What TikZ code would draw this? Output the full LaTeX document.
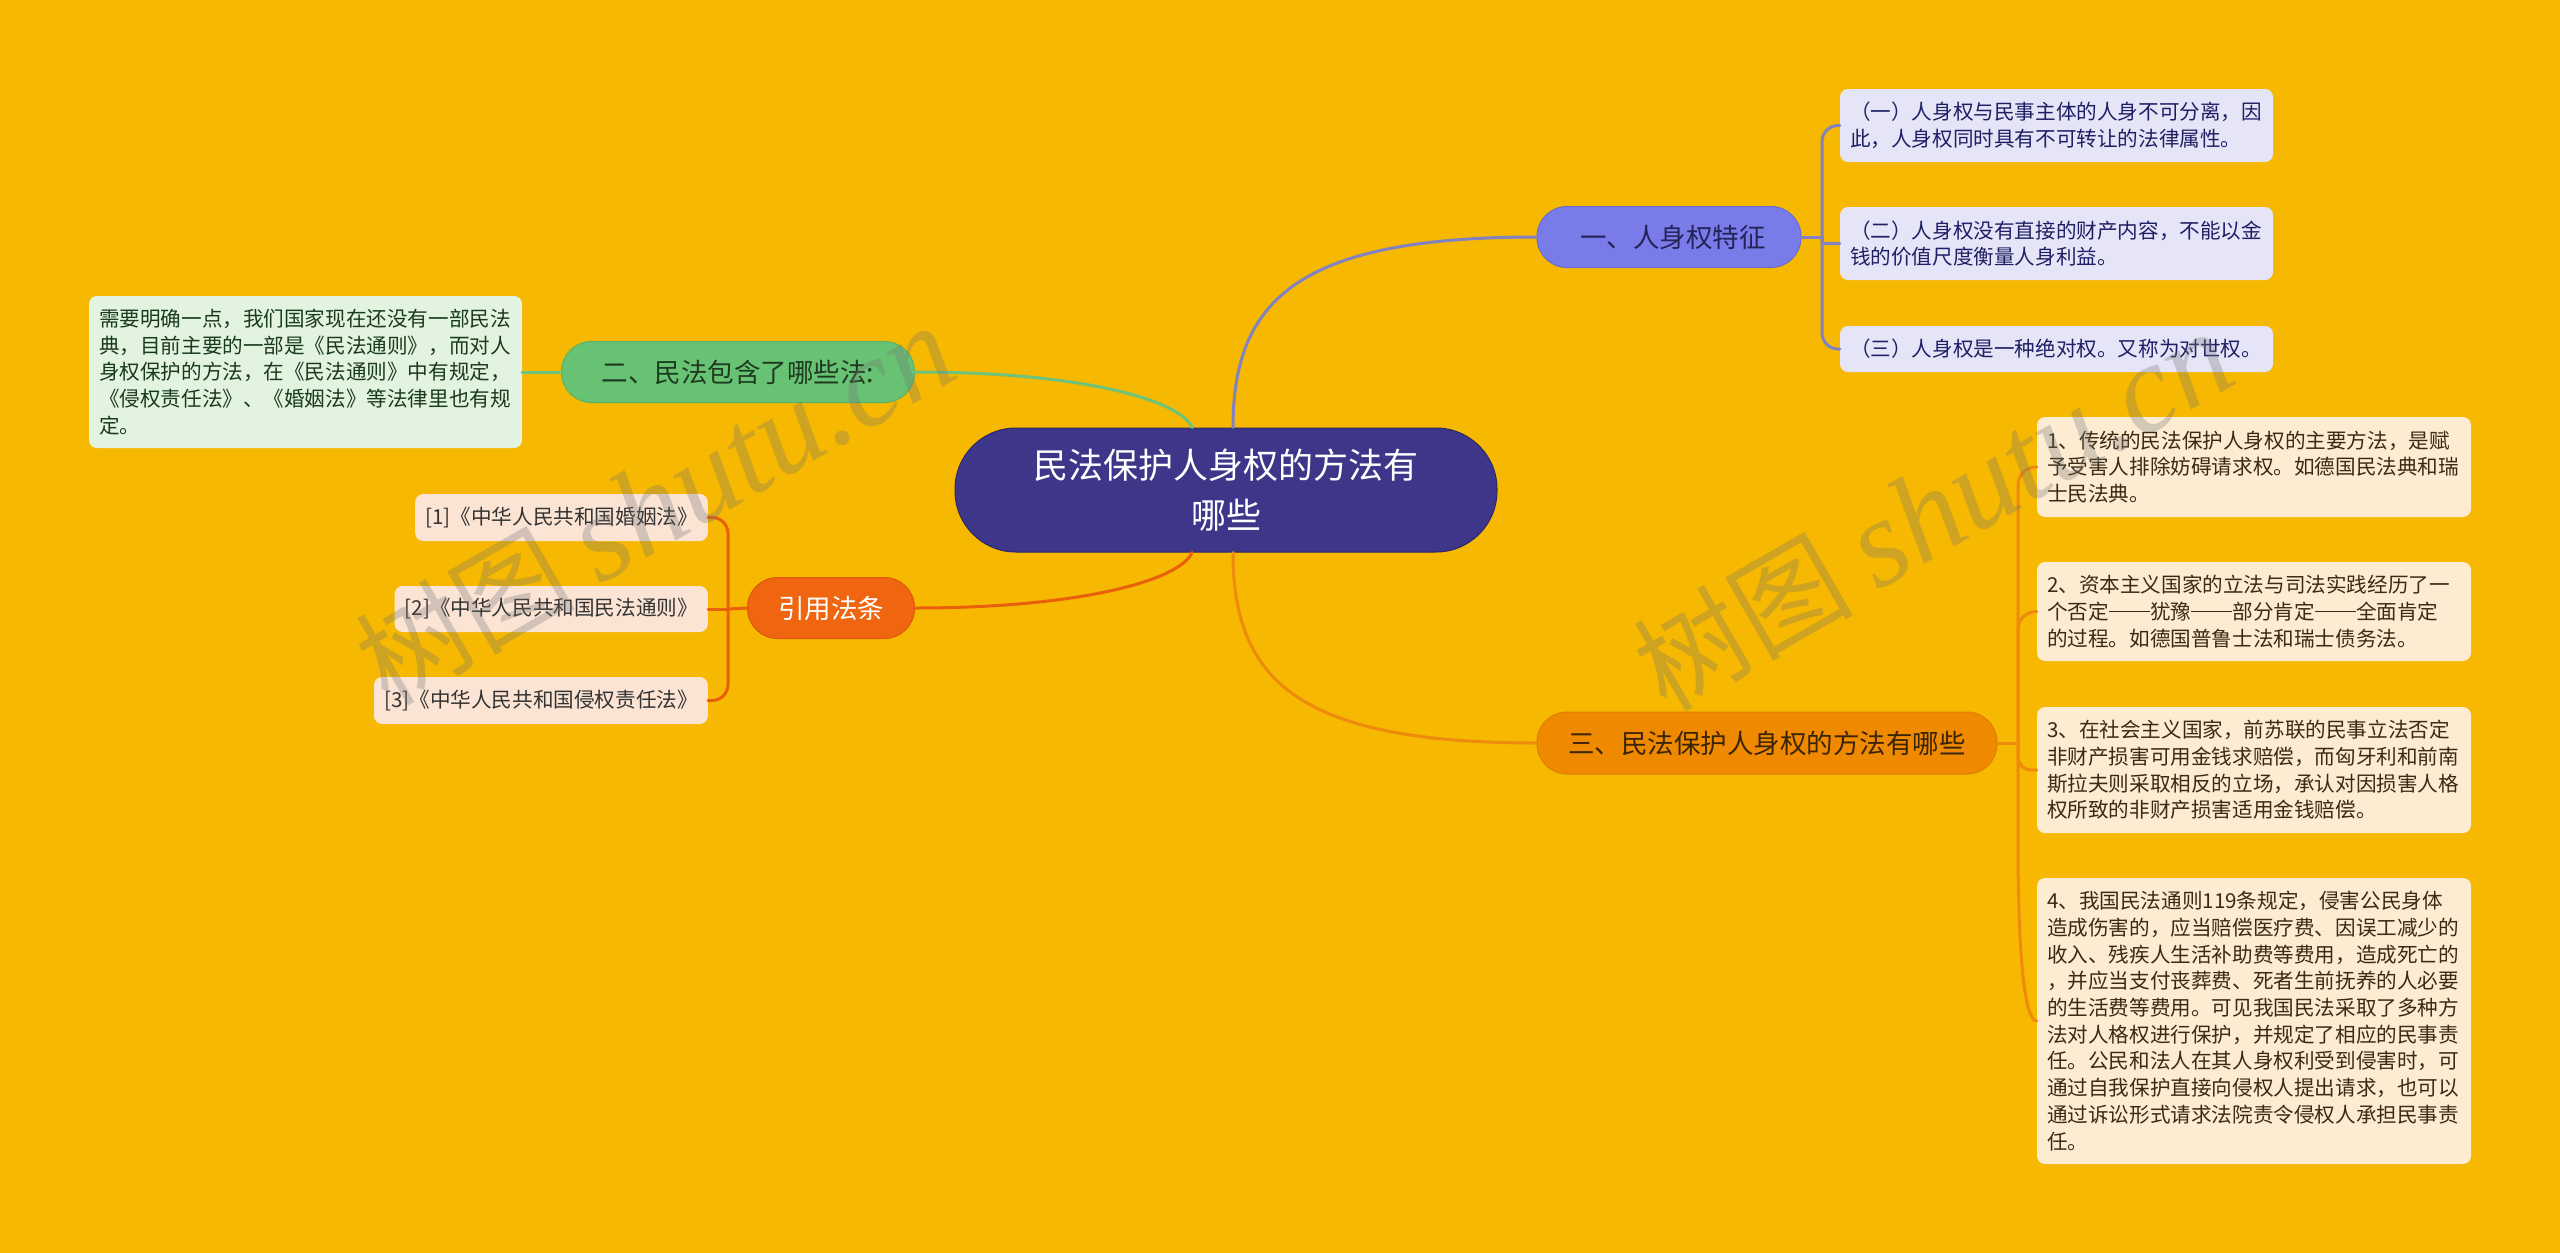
\documentclass[tikz,border=0pt]{standalone}
\usepackage{fontspec}
\setmainfont{Noto Sans CJK SC}
\newfontfamily\wmlatin{Liberation Serif}
\newcommand\cjkdash{\rule[0.34em]{2em}{0.065em}}
\definecolor{bg}{HTML}{F6B800}
\definecolor{rootc}{HTML}{3E3689}
\definecolor{rootb}{HTML}{2C2768}
\definecolor{c1}{HTML}{797CE8}
\definecolor{c1b}{HTML}{6A6CCB}
\definecolor{c1t}{HTML}{23235A}
\definecolor{c3}{HTML}{EF8900}
\definecolor{c3b}{HTML}{E07E00}
\definecolor{c3t}{HTML}{3B2408}
\definecolor{c2}{HTML}{68C274}
\definecolor{c2b}{HTML}{5BB067}
\definecolor{c2t}{HTML}{1E3B20}
\definecolor{c4}{HTML}{F0650F}
\definecolor{c4b}{HTML}{DD5A0A}
\definecolor{pl}{HTML}{E5E5F7}
\definecolor{plt}{HTML}{1F1F66}
\definecolor{ol}{HTML}{FDECD2}
\definecolor{olt}{HTML}{3B2B14}
\definecolor{gl}{HTML}{E2F4E0}
\definecolor{glt}{HTML}{1A3A1C}
\definecolor{rl}{HTML}{FCE4D4}
\definecolor{rlt}{HTML}{333333}
\definecolor{pe}{HTML}{8282C2}
\definecolor{oe}{HTML}{EE8A0C}
\definecolor{ge}{HTML}{6EC27A}
\definecolor{re}{HTML}{E9600C}
\tikzset{
  mainnode/.style={inner sep=0pt, line width=1pt, align=center, font=\fontsize{26.5}{32}\selectfont},
  leaf/.style={inner xsep=10pt, inner ysep=6pt, rounded corners=8pt, align=left, font=\fontsize{20.6}{26.7}\selectfont},
  conn/.style={line width=3pt, line cap=round},
  wm/.style={rotate=30, text=black!55, opacity=0.3, inner sep=0pt, font=\fontsize{110}{110}\selectfont}
}
\begin{document}
\begin{tikzpicture}[x=1pt,y=-1pt]
\fill[bg] (0,0) rectangle (2560,1253);
\useasboundingbox (0,0) rectangle (2560,1253);

% main nodes
\node[mainnode, fill=rootc, draw=rootb, text=white, minimum width=542pt, minimum height=124pt, rounded corners=61pt, font=\fontsize{35}{50}\selectfont] (root) at (1226,490) {民法保护人身权的方法有\\哪些};
\node[mainnode, fill=c1, draw=c1b, text=c1t, minimum width=264pt, minimum height=61pt, rounded corners=30pt] (n1) at (1669,237) {\hspace{8pt}一、人身权特征};
\node[mainnode, fill=c3, draw=c3b, text=c3t, minimum width=460pt, minimum height=62pt, rounded corners=30pt] (n3) at (1767,743) {三、民法保护人身权的方法有哪些};
\node[mainnode, fill=c2, draw=c2b, text=c2t, minimum width=353pt, minimum height=61pt, rounded corners=30pt] (n2) at (738,372) {二、民法包含了哪些法:};
\node[mainnode, fill=c4, draw=c4b, text=white, minimum width=167pt, minimum height=61pt, rounded corners=30pt] (n4) at (831,608) {引用法条};

% purple leaves
\node[leaf, fill=pl, text=plt, text width=413pt, minimum height=73pt] (p1) at (2056.5,125.5) {（一）人身权与民事主体的人身不可分离，因\\此，人身权同时具有不可转让的法律属性。};
\node[leaf, fill=pl, text=plt, text width=413pt, minimum height=73pt] (p2) at (2056.5,243.5) {（二）人身权没有直接的财产内容，不能以金\\钱的价值尺度衡量人身利益。};
\node[leaf, fill=pl, text=plt, text width=413pt, minimum height=46pt] (p3) at (2056.5,349) {（三）人身权是一种绝对权。又称为对世权。};

% orange leaves
\node[leaf, fill=ol, text=olt, text width=414pt, minimum height=100pt] (o1) at (2254,467) {1、传统的民法保护人身权的主要方法，是赋\\予受害人排除妨碍请求权。如德国民法典和瑞\\士民法典。};
\node[leaf, fill=ol, text=olt, text width=414pt, minimum height=99pt] (o2) at (2254,611.5) {2、资本主义国家的立法与司法实践经历了一\\个否定\cjkdash 犹豫\cjkdash 部分肯定\cjkdash 全面肯定\\的过程。如德国普鲁士法和瑞士债务法。};
\node[leaf, fill=ol, text=olt, text width=414pt, minimum height=126pt] (o3) at (2254,770) {3、在社会主义国家，前苏联的民事立法否定\\非财产损害可用金钱求赔偿，而匈牙利和前南\\斯拉夫则采取相反的立场，承认对因损害人格\\权所致的非财产损害适用金钱赔偿。};
\node[leaf, fill=ol, text=olt, text width=414pt, minimum height=286pt] (o4) at (2254,1021) {4、我国民法通则119条规定，侵害公民身体\\造成伤害的，应当赔偿医疗费、因误工减少的\\收入、残疾人生活补助费等费用，造成死亡的\\，并应当支付丧葬费、死者生前抚养的人必要\\的生活费等费用。可见我国民法采取了多种方\\法对人格权进行保护，并规定了相应的民事责\\任。公民和法人在其人身权利受到侵害时，可\\通过自我保护直接向侵权人提出请求，也可以\\通过诉讼形式请求法院责令侵权人承担民事责\\任。};

% green leaf
\node[leaf, fill=gl, text=glt, text width=413pt, minimum height=152pt] (g1) at (305.5,372) {需要明确一点，我们国家现在还没有一部民法\\典，目前主要的一部是《民法通则》，而对人\\身权保护的方法，在《民法通则》中有规定，\\《侵权责任法》、《婚姻法》等法律里也有规\\定。};

% reference leaves
\node[leaf, fill=rl, text=rlt, minimum height=47pt, anchor=east] (r1) at (708,517.5) {[1]《中华人民共和国婚姻法》};
\node[leaf, fill=rl, text=rlt, minimum height=46pt, anchor=east] (r2) at (708,609) {[2]《中华人民共和国民法通则》};
\node[leaf, fill=rl, text=rlt, minimum height=47pt, anchor=east] (r3) at (708,700.5) {[3]《中华人民共和国侵权责任法》};

% connectors from root
\draw[conn, pe] ([xshift=7pt]root.north) .. controls +(0,-128) and +(-238,0) .. (n1.west);
\draw[conn, oe] ([xshift=7pt]root.south) .. controls +(0,128) and +(-238,0) .. (n3.west);
\draw[conn, ge] (n2.east) .. controls +(165,0) and +(-12,-28) .. ([xshift=-34pt]root.north);
\draw[conn, re] (n4.east) .. controls +(165,0) and +(-12,28) .. ([xshift=-34pt]root.south);

% purple bracket
\coordinate (bp) at (1822,237);
\draw[conn, pe] (n1.east) -- (bp);
\draw[conn, pe, rounded corners=16pt] (bp) |- (p1.west);
\draw[conn, pe, rounded corners=3pt] (bp) |- (p2.west);
\draw[conn, pe, rounded corners=16pt] (bp) |- (p3.west);

% orange bracket
\coordinate (bo) at (2018,743);
\coordinate (bo4) at (2018,840);
\draw[conn, oe] (n3.east) -- (bo);
\draw[conn, oe, rounded corners=18pt] (bo) |- (o1.west);
\draw[conn, oe, rounded corners=18pt] (bo) |- (o2.west);
\draw[conn, oe, rounded corners=13pt] (bo) |- (o3.west);
\draw[conn, oe] (bo) -- (bo4) .. controls +(0,120) and +(-12,0) .. (o4.west);

% green link
\draw[conn, ge] (n2.west) -- (g1.east);

% reference bracket
\coordinate (br) at (728,609);
\draw[conn, re] (n4.west) -- (br);
\draw[conn, re, rounded corners=16pt] (br) |- (r1.east);
\draw[conn, re] (br) -- (r2.east);
\draw[conn, re, rounded corners=16pt] (br) |- (r3.east);

% watermarks
\node[wm] (wm1) at (655,505) {树图 {\wmlatin\itshape\fontsize{125}{125}\selectfont shutu.cn}};
\node[wm] (wm2) at (1933,511) {树图 {\wmlatin\itshape\fontsize{125}{125}\selectfont shutu.cn}};
\end{tikzpicture}
\end{document}
